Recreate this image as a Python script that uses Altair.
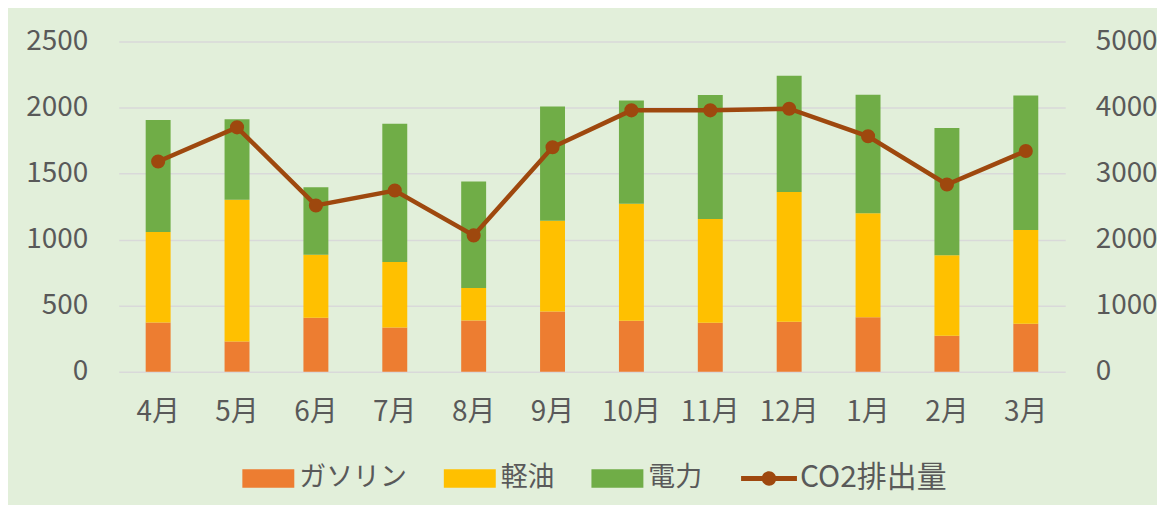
import altair as alt
import pandas as pd

months = ["4月", "5月", "6月", "7月", "8月", "9月", "10月", "11月", "12月", "1月", "2月", "3月"]
gasoline = [372, 229, 408, 335, 388, 455, 385, 370, 378, 413, 272, 363]
diesel = [685, 1073, 478, 496, 246, 688, 886, 786, 982, 786, 609, 710]
electricity = [849, 609, 511, 1047, 806, 866, 783, 939, 881, 898, 964, 1019]
co2 = [3183, 3701, 2518, 2744, 2064, 3399, 3958, 3958, 3983, 3565, 2835, 3343]
series = ["ガソリン", "軽油", "電力"]
line_name = "CO2排出量"
bar_colors = ["#ED7D31", "#FFC000", "#70AD47"]
line_color = "#9E480E"
left_ticks = [0, 500, 1000, 1500, 2000, 2500]
right_ticks = [0, 1000, 2000, 3000, 4000, 5000]

rows = []
for i, m in enumerate(months):
    for j, (s, vals) in enumerate(zip(series, [gasoline, diesel, electricity])):
        rows.append({"month": m, "series": s, "value": vals[i], "ord": j})
bars_df = pd.DataFrame(rows)
line_df = pd.DataFrame({"month": months, "co2": co2})

FONT = "Noto Sans CJK JP"
TXT = "#595959"
AXFS = 28

rect_path = "M-0.93,-0.33H0.93V0.33H-0.93Z"
line_path = ("M-1,-0.09H1V0.09H-1Z "
             "M0.26,0A0.26,0.26 0 1,1 -0.26,0A0.26,0.26 0 1,1 0.26,0Z")

common_legend = dict(
    title=None,
    orient="none",
    direction="horizontal",
    padding=0,
    symbolSize=3136,
    symbolStrokeWidth=0,
    labelFont=FONT,
    labelColor=TXT,
    labelOffset=3,
    legendY=410,
)

bar_legend = alt.Legend(legendX=122, columns=3, symbolType=rect_path,
                        labelFontSize=27, columnPadding=35, **common_legend)
line_legend = alt.Legend(legendX=624, columns=1, symbolType=line_path,
                         labelFontSize=30, symbolFillColor=line_color, **common_legend)

x_enc = alt.X(
    "month:N",
    sort=months,
    title=None,
    axis=alt.Axis(labelAngle=0, labelFont=FONT, labelFontSize=AXFS, labelColor=TXT,
                  labelPadding=27, ticks=False, domain=False, grid=False),
)

bars = alt.Chart(bars_df).mark_bar(size=25).encode(
    x=x_enc,
    y=alt.Y(
        "value:Q",
        stack="zero",
        title=None,
        scale=alt.Scale(domain=[0, 2500]),
        axis=alt.Axis(values=left_ticks, format="d", labelFont=FONT, labelFontSize=AXFS,
                      labelColor=TXT, labelPadding=31, ticks=False, domain=False, grid=True,
                      gridColor="#D9D9D9", gridWidth=1.5),
    ),
    color=alt.Color("series:N", scale=alt.Scale(domain=series, range=bar_colors),
                    legend=bar_legend),
    order=alt.Order("ord:Q"),
)

y_line = alt.Y(
    "co2:Q",
    title=None,
    scale=alt.Scale(domain=[0, 5000]),
    axis=alt.Axis(orient="right", values=right_ticks, format="d", labelFont=FONT,
                  labelFontSize=AXFS, labelColor=TXT, labelPadding=30, ticks=False,
                  domain=False, grid=False),
)

line = alt.Chart(line_df).mark_line(strokeWidth=4.5, color=line_color).encode(
    x=alt.X("month:N", sort=months),
    y=y_line,
)

points = alt.Chart(line_df).mark_point(size=200, filled=True, opacity=1, shape="circle").encode(
    x=alt.X("month:N", sort=months),
    y=alt.Y("co2:Q", scale=alt.Scale(domain=[0, 5000])),
    fill=alt.Fill("name:N", scale=alt.Scale(domain=[line_name], range=[line_color]),
                  legend=line_legend),
).transform_calculate(name=f"'{line_name}'")

chart = (
    alt.layer(bars, alt.layer(line, points))
    .resolve_scale(y="independent")
    .properties(
        width=949,
        height=331,
        background="#E2EFDA",
        padding={"left": 111, "top": 33, "right": 92, "bottom": 133},
        autosize=alt.AutoSizeParams(type="none"),
    )
    .configure_view(stroke=None)
)

chart.save("out.html", embed_options={"renderer": "svg", "actions": False})
